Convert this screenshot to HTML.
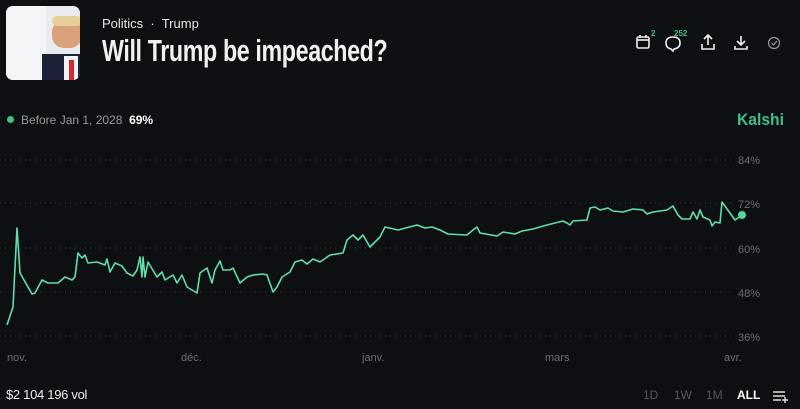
<!DOCTYPE html>
<html><head><meta charset="utf-8"><style>
body{margin:0;width:800px;height:409px;background:#0e0f13;overflow:hidden;font-family:"Liberation Sans",sans-serif;color:#fff;position:relative}
.a{position:absolute;white-space:nowrap}
</style></head><body>
<div class="a" style="left:6px;top:6px;width:74px;height:74px;border-radius:7px;overflow:hidden;background:#e9ecef">
 <div style="position:absolute;left:0;top:0;width:40px;height:74px;background:#f4f5f7"></div>
 <div style="position:absolute;left:46px;top:14px;width:30px;height:28px;border-radius:12px;background:#d9a27c"></div>
 <div style="position:absolute;left:46px;top:10px;width:30px;height:10px;border-radius:6px;background:#e6cf9a"></div>
 <div style="position:absolute;left:36px;top:48px;width:40px;height:30px;background:#1b2238"></div>
 <div style="position:absolute;left:58px;top:50px;width:14px;height:24px;background:#f2f2f2"></div>
 <div style="position:absolute;left:63px;top:54px;width:5px;height:22px;background:#d42a2a"></div>
</div>
<div class="a" style="left:102px;top:16px;font-size:13px;color:#e6e6e6">Politics &nbsp;·&nbsp; Trump</div>
<div class="a" style="left:102px;top:33px;font-size:31px;font-weight:bold;color:#f0f0f0;letter-spacing:-0.5px;transform:scaleX(0.75);transform-origin:0 0">Will Trump be impeached?</div>
<svg class="a" style="left:630px;top:28px" width="160" height="30" viewBox="0 0 160 30">
 <g fill="none" stroke="#eee" stroke-width="1.6">
  <rect x="7" y="9" width="12" height="11" rx="1.5"/><line x1="7" y1="12" x2="19" y2="12"/><line x1="10" y1="7" x2="10" y2="10"/><line x1="16" y1="7" x2="16" y2="10"/>
  <path d="M41 21 q-5 -1 -5 -6 q0 -6 7 -6 q7 0 7 6 q0 5 -6 6 l-1 2z"/>
  <path d="M72 16 v5 h12 v-5 M78 17 v-9 M74 11 l4 -4 4 4"/>
  <path d="M105 18 v3 h12 v-3 M111 8 v9 M107 13 l4 4 4 -4"/>
 </g>
 <circle cx="144" cy="15" r="5.5" fill="none" stroke="#999" stroke-width="1.2"/><path d="M141.5 15 l2 2 3.5 -4" fill="none" stroke="#999" stroke-width="1.2"/>
 <text x="21" y="8" font-size="8" font-weight="bold" fill="#3ec28a" font-family="Liberation Sans">2</text>
 <text x="44" y="8" font-size="8" font-weight="bold" fill="#3ec28a" font-family="Liberation Sans">252</text>
</svg>
<div class="a" style="left:7px;top:116px;width:7px;height:7px;border-radius:50%;background:#3ec28a"></div>
<div class="a" style="left:21px;top:113px;font-size:12px;color:#9a9a9a">Before Jan 1, 2028 &nbsp;<span style="color:#fff;font-weight:bold">69%</span></div>
<div class="a" style="left:737px;top:110px;font-size:17px;font-weight:bold;color:#3ec28a;transform:scaleX(0.92);transform-origin:0 0">Kalshi</div>
<svg class="a" style="left:0;top:0" width="800" height="409">
 <g stroke="#3a3b40" stroke-width="1" stroke-dasharray="1 4">
  <line x1="0" y1="160" x2="732" y2="160"/><line x1="0" y1="203" x2="732" y2="203"/><line x1="0" y1="248" x2="732" y2="248"/><line x1="0" y1="292" x2="732" y2="292"/><line x1="0" y1="336" x2="732" y2="336"/>
 </g>
 <g font-size="11" fill="#6e6e72" font-family="Liberation Sans">
  <text x="738" y="164">84%</text><text x="738" y="208">72%</text><text x="738" y="253">60%</text><text x="738" y="297">48%</text><text x="738" y="341">36%</text>
  <text x="7" y="361">nov.</text><text x="181" y="361">déc.</text><text x="362" y="361">janv.</text><text x="545" y="361">mars</text><text x="724" y="361">avr.</text>
 </g>
 <polyline fill="none" stroke="#5fe0aa" stroke-width="1.6" stroke-linejoin="round" points="7,325 13,307 17,228 20,273 32,294 35,293 42,280 48,283 58,283 65,277 72,280 75,277 78,253 82,258 85,255 88,263 97,262 105,265 107,259 110,272 115,263 122,266 127,273 133,276 137,270 140,257 142,277 143,257 145,277 148,262 157,277 162,272 165,280 173,275 177,283 182,275 187,287 197,293 200,273 207,268 212,283 215,270 220,261 223,270 230,270 233,268 240,283 247,277 253,275 263,274 267,275 273,292 277,287 282,277 290,272 295,262 302,260 307,264 313,259 320,262 330,255 343,253 347,240 353,235 358,240 363,235 370,247 380,237 385,227 398,230 417,225 425,228 432,227 440,230 448,234 467,235 473,230 477,227 480,233 497,236 503,232 515,234 522,231 533,229 547,225 563,221 567,223 570,225 573,221 587,220 590,208 595,207 600,210 608,208 613,211 623,212 633,209 643,210 647,214 653,212 667,210 673,206 678,215 682,219 690,219 693,212 697,219 700,210 703,217 710,220 712,226 715,222 720,223 722,202 735,220 742,215"/>
 <circle cx="742" cy="215" r="4" fill="#4fd69a"/>
</svg>
<div class="a" style="left:6px;top:387px;font-size:13px;color:#eee;letter-spacing:-0.3px">$2 104 196 vol</div>
<div class="a" style="left:643px;top:388px;font-size:12px;color:#555">1D</div>
<div class="a" style="left:674px;top:388px;font-size:12px;color:#555">1W</div>
<div class="a" style="left:706px;top:388px;font-size:12px;color:#555">1M</div>
<div class="a" style="left:737px;top:388px;font-size:12px;color:#fff;font-weight:bold">ALL</div>
<svg class="a" style="left:771px;top:388px" width="20" height="16"><g stroke="#ddd" stroke-width="1.5"><line x1="2" y1="4" x2="14" y2="4"/><line x1="2" y1="8" x2="14" y2="8"/><line x1="2" y1="12" x2="10" y2="12"/><line x1="14" y1="9" x2="14" y2="15"/><line x1="11" y1="12" x2="17" y2="12"/></g></svg>
</body></html>
